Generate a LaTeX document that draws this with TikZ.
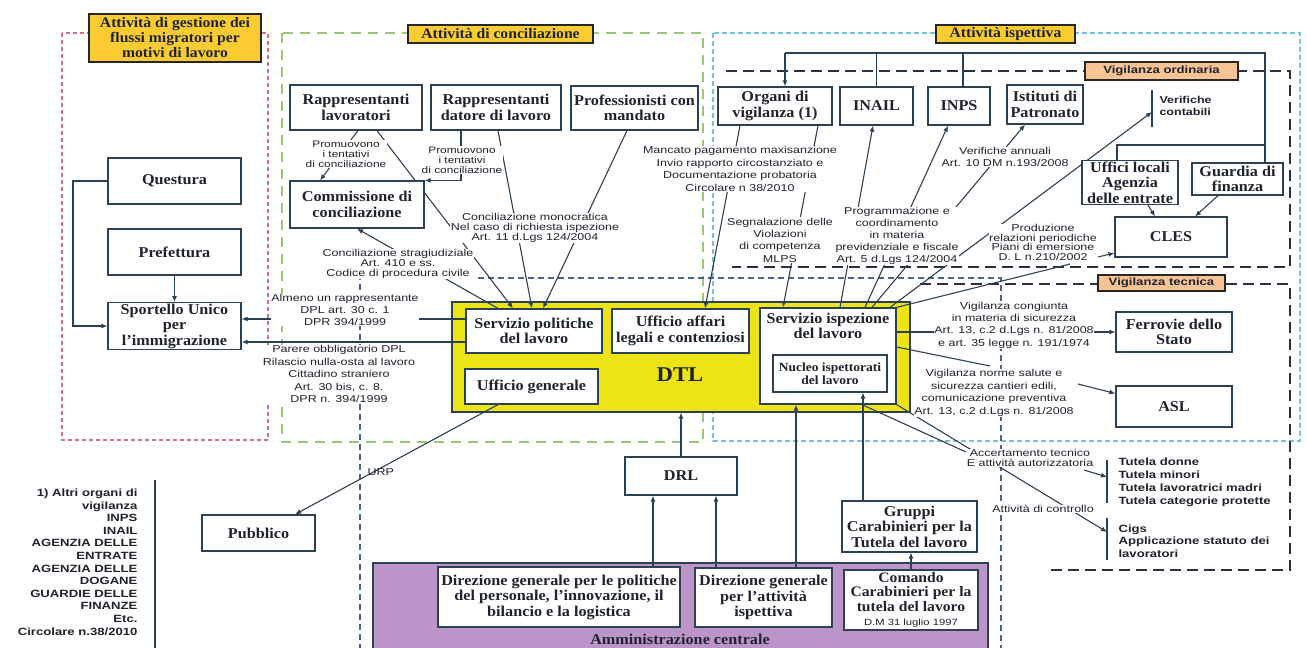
\documentclass[tikz,border=0pt]{standalone}
\usepackage{fontspec}
\setmainfont{Liberation Serif}[FakeStretch=1.08]
\setsansfont{Liberation Sans}[FakeStretch=1.25]
\usetikzlibrary{arrows.meta}
\definecolor{boxc}{RGB}{45,65,85}
\definecolor{txtc}{RGB}{30,35,45}
\definecolor{gold}{RGB}{250,204,50}
\definecolor{salm}{RGB}{248,196,150}
\definecolor{dtly}{RGB}{236,228,20}
\definecolor{lil}{RGB}{188,148,202}
\definecolor{pinkf}{RGB}{210,110,140}
\definecolor{greenf}{RGB}{150,200,120}
\definecolor{bluef}{RGB}{120,190,225}
\definecolor{dashc}{RGB}{40,50,65}
\definecolor{dtlf}{RGB}{70,100,140}
\pgfdeclarelayer{back}\pgfdeclarelayer{mid}\pgfsetlayers{back,mid,main}
\tikzset{
 box/.style={draw=boxc,line width=1.2pt,fill=white,align=center,inner sep=1pt,text=txtc,font=\bfseries\fontsize{15}{15.5}\selectfont},
 ttl/.style={draw=black!85,line width=1.8pt,fill=gold,align=center,inner sep=1pt,text=txtc,font=\bfseries\fontsize{14.5}{15}\selectfont},
 vig/.style={draw=black!85,line width=1.6pt,fill=salm,inner sep=1pt,text=txtc,font=\sffamily\bfseries\fontsize{10.5}{10.5}\selectfont},
 lbl/.style={fill=white,inner sep=0.5pt,align=center,text=txtc,font=\sffamily\fontsize{10}{#1}\selectfont},
 lbl/.default=12,
 conn/.style={draw=boxc,line width=1.1pt},
 arr/.style={conn,-{Latex[length=6pt,width=5pt]}},
 bar/.style={draw=boxc,line width=1.5pt},
 fr/.style={line width=1.2pt},
}
\newcommand\mybox[6][]{\node[box,minimum width=#4pt,minimum height=#5pt,#1] (#2) at (#3) {#6};}
\begin{document}
\begin{tikzpicture}[x=1pt,y=-1pt]
\useasboundingbox (0,0) rectangle (1307,648);
% ---------- nodes ----------
\node[ttl,minimum width=172pt,minimum height=48pt] (tg) at (175,38) {Attività di gestione dei\\flussi migratori per\\motivi di lavoro};
\node[ttl,minimum width=185pt,minimum height=18pt] (tc) at (500.5,34) {Attività di conciliazione};
\node[ttl,minimum width=139pt,minimum height=18pt] (ti) at (1005.5,34) {Attività ispettiva};
\node[vig,minimum width=153pt,minimum height=18pt] (vo) at (1161.5,71) {Vigilanza ordinaria};
\node[vig,minimum width=127pt,minimum height=16pt] (vt) at (1161.5,283) {Vigilanza tecnica};

\mybox{qs}{174.5,181}{133}{46}{Questura}
\mybox{pf}{174.5,252}{133}{46}{Prefettura}
\mybox{sp}{174.5,326}{133}{46}{Sportello Unico\\per\\l'immigrazione}
\mybox{rl}{356,107.5}{132}{45}{Rappresentanti\\lavoratori}
\mybox{rd}{496,107.5}{130}{45}{Rappresentanti\\datore di lavoro}
\mybox{pr}{634.5,108}{127}{44}{Professionisti con\\mandato}
\mybox{cm}{357,204.5}{134}{47}{Commissione di\\conciliazione}
\mybox{og}{775,106}{114}{38}{Organi di\\vigilanza (1)}
\mybox{ia}{876.5,106}{73}{38}{INAIL}
\mybox{ip}{959,106}{62}{38}{INPS}
\mybox{pt}{1045,104.5}{76}{39}{Istituti di\\Patronato}
\mybox{ul}{1130,182.5}{96}{39}{Uffici locali\\Agenzia\\delle entrate}
\mybox{gf}{1237.5,179}{91}{32}{Guardia di\\finanza}
\mybox{cl}{1171,237}{112}{40}{CLES}
\mybox{fe}{1174,332}{116}{40}{Ferrovie dello\\Stato}
\mybox{asl}{1174,406.5}{116}{41}{ASL}

\begin{pgfonlayer}{back}
 \fill[white] (0,0) rectangle (1307,648);
 \draw[fr,pinkf,dash pattern=on 4pt off 3pt] (62,33) rectangle (268,440);
 \draw[fr,greenf,line width=1.4pt,dash pattern=on 10pt off 7pt] (282,33) rectangle (703,442);
 \draw[fr,bluef,dash pattern=on 5pt off 3pt] (713,33) rectangle (1300,441);
 \draw[dashc,line width=1.7pt,dash pattern=on 11pt off 6pt] (726,71) -- (1290,71) -- (1290,267) -- (732,267);
 \draw[dashc,line width=1.7pt,dash pattern=on 11pt off 6pt] (920,284) -- (1290,284) -- (1290,570) -- (1047,570);
 \draw[fr,dtlf,dash pattern=on 6pt off 4pt] (360,660) -- (360,278) -- (1001,278) -- (1001,660);
 \node[draw=boxc,line width=1.2pt,fill=dtly,minimum width=458pt,minimum height=110pt] (dtl) at (681,357) {};
 \node[draw=boxc,line width=1.2pt,fill=lil,minimum width=615pt,minimum height=110pt] (ac) at (680.5,618) {};
\end{pgfonlayer}

\node[text=txtc,font=\bfseries\fontsize{21}{21}\selectfont] (dtlt) at (680,375) {DTL};
\node[text=txtc,font=\bfseries\fontsize{15}{15}\selectfont] (act) at (680,639) {Amministrazione centrale};

\mybox{sv}{534,331}{136}{44}{Servizio politiche\\del lavoro}
\mybox{ua}{680.5,331}{137}{44}{Ufficio affari\\legali e contenziosi}
\mybox{ug}{531.5,386.5}{133}{35}{Ufficio generale}
\mybox{si}{828,356}{136}{96}{}
\node[text=txtc,align=center,font=\bfseries\fontsize{15}{15.5}\selectfont] (sit) at (828,326) {Servizio ispezione\\del lavoro};
\mybox[font=\bfseries\fontsize{12.5}{13.5}\selectfont]{nu}{830,373.5}{114}{37}{Nucleo ispettorati\\del lavoro}
\mybox{drl}{681,476}{112}{38}{DRL}
\mybox{pb}{258.5,533}{113}{36}{Pubblico}
\mybox{gr}{909.5,526.5}{135}{51}{Gruppi\\Carabinieri per la\\Tutela del lavoro}
\mybox{dp}{559,597}{242}{60}{Direzione generale per le politiche\\del personale, l'innovazione, il\\bilancio e la logistica}
\mybox{di}{763.5,597.5}{137}{59}{Direzione generale\\per l'attività\\ispettiva}
\mybox[font=\bfseries\fontsize{14.5}{14.5}\selectfont]{cd}{911,600}{134}{60}{Comando\\Carabinieri per la\\tutela del lavoro\\{\sffamily\mdseries\fontsize{9}{10}\selectfont D.M 31 luglio 1997}}

% ---------- labels ----------
\node[lbl=10,font=\sffamily\fontsize{9.5}{10}\selectfont] (lp1) at (346,154) {Promuovono\\i tentativi\\di conciliazione};
\node[lbl=10,font=\sffamily\fontsize{9.5}{10}\selectfont] (lp2) at (462,160) {Promuovono\\i tentativi\\di conciliazione};
\node[lbl=10] (lmono) at (535,228) {Conciliazione monocratica\\Nel caso di richiesta ispezione\\Art. 11 d.Lgs 124/2004};
\node[lbl=10] (lstra) at (398,264) {Conciliazione stragiudiziale\\Art. 410 e ss.\\Codice di procedura civile};
\node[lbl=12] (lalm) at (345,310) {Almeno un rappresentante\\DPL art. 30 c. 1\\DPR 394/1999};
\node[lbl=12.5] (lpar) at (339,374) {Parere obbligatorio DPL\\Rilascio nulla-osta al lavoro\\Cittadino straniero\\Art. 30 bis, c. 8.\\DPR n. 394/1999};
\node[lbl=12.5] (lman) at (740,169) {Mancato pagamento maxisanzione\\Invio rapporto circostanziato e\\Documentazione probatoria\\Circolare n 38/2010};
\node[lbl=12.3] (lseg) at (780,240) {Segnalazione delle\\Violazioni\\di competenza\\MLPS};
\node[lbl=12] (lprog) at (897,236) {Programmazione e\\coordinamento\\in materia\\previdenziale e fiscale\\Art. 5 d.Lgs 124/2004};
\node[lbl=12.5] (lver) at (1005,157) {Verifiche annuali\\Art. 10 DM n.193/2008};
\node[lbl=9.7] (lprod) at (1043,242.5) {Produzione\\relazioni periodiche\\Piani di emersione\\D. L n.210/2002};
\node[lbl=12.3] (lcong) at (1014,325) {Vigilanza congiunta\\in materia di sicurezza\\Art. 13, c.2 d.Lgs n. 81/2008\\e art. 35 legge n. 191/1974};
\node[lbl=12.5] (lnorm) at (994,393) {Vigilanza norme salute e\\sicurezza cantieri edili,\\comunicazione preventiva\\Art. 13, c.2 d.Lgs n. 81/2008};
\node[lbl=10] (lacc) at (1030,458) {Accertamento tecnico\\E attività autorizzatoria};
\node[lbl=10] (lctr) at (1043,509) {Attività di controllo};
\node[anchor=west,text=txtc,font=\sffamily\fontsize{10}{10}\selectfont] (lurp) at (364,472) {URP};
\node[anchor=west,align=left,text=txtc,font=\sffamily\bfseries\fontsize{10}{12}\selectfont] (lvc) at (1156,106) {Verifiche\\contabili};
\node[anchor=west,align=left,text=txtc,font=\sffamily\bfseries\fontsize{10.5}{13}\selectfont] (ltut) at (1115,482.5) {Tutela donne\\Tutela minori\\Tutela lavoratrici madri\\Tutela categorie protette};
\node[anchor=west,align=left,text=txtc,font=\sffamily\bfseries\fontsize{10.5}{12.5}\selectfont] (lcig) at (1115,541) {Cigs\\Applicazione statuto dei\\lavoratori};
\node[anchor=east,align=right,text=txtc,font=\sffamily\bfseries\fontsize{10.5}{12.6}\selectfont] (lfn) at (141,562) {1) Altri organi di\\vigilanza\\INPS\\INAIL\\AGENZIA DELLE\\ENTRATE\\AGENZIA DELLE\\DOGANE\\GUARDIE DELLE\\FINANZE\\Etc.\\Circolare n.38/2010};

% bars
\coordinate (vcT) at (1152,90); \coordinate (vcB) at (1152,127); \coordinate (vcb) at (1152,112);
\coordinate (tuT) at (1107,460); \coordinate (tuB) at (1107,503); \coordinate (tub) at (1107,477);
\coordinate (ciT) at (1107,518); \coordinate (ciB) at (1107,560); \coordinate (cib) at (1107,532);
\coordinate (fnT) at (155,480); \coordinate (fnB) at (155,650);
\draw[bar] (vcT) -- (vcB);
\draw[bar] (tuT) -- (tuB);
\draw[bar] (ciT) -- (ciB);
\draw[bar] (fnT) -- (fnB);

% ---------- connectors ----------
\begin{pgfonlayer}{mid}
\coordinate (qL) at (73,181);
\draw[arr] (qs.west) -- (qL) |- (sp.west);
\draw[arr] (pf.south) -- (sp.north);
\draw[arr] ([yshift=12pt]sv.west) -- ([yshift=7pt]sp.east);
\draw[arr] ([yshift=-11pt]sv.west) -- ([yshift=-16pt]sp.east);
\draw[arr] ([xshift=2pt]rl.south) -- ([xshift=-37pt]cm.north);
\draw[arr] ([xshift=-35pt]rd.south) |- (cm.north east);
\draw[arr] ([xshift=21pt]rl.south) -- ([xshift=-21pt]sv.north);
\draw[arr] ([xshift=2pt]rd.south) -- ([xshift=-2pt]sv.north);
\draw[arr] ([xshift=-7.5pt]pr.south) -- ([xshift=9pt]sv.north);
\draw[arr] ([xshift=-36pt]sv.north) -- (cm.south);
\draw[arr] ([xshift=-35pt]og.south) -- ([xshift=24.5pt]ua.north);
\draw[arr] ([xshift=43pt]og.south) -- ([xshift=-45pt]si.north);
\draw[arr] ([xshift=12pt]si.north) -- ([xshift=-3.5pt]ia.south);
\draw[arr] ([xshift=37pt]si.north) -- ([xshift=-11pt]ip.south);
\draw[arr] ([xshift=44pt]si.north) -- ([xshift=-20pt]pt.south);
\draw[arr] ([xshift=62pt]si.north) -- (vcb);
% bus
\coordinate (busL) at (785,53); \coordinate (busR) at (1265,53); \coordinate (busJ) at (1265,145);
\draw[conn] (busL) -- (busR) -- ([xshift=27.5pt]gf.north);
\draw[arr] (busL) -- ([xshift=10pt]og.north);
\draw[conn] (ia.north |- busL) -- (ia.north);
\draw[conn] ([xshift=4pt]ip.north |- busL) -- ([xshift=4pt]ip.north);
\draw[conn] (busJ) -| ([xshift=-13pt]ul.north);
\draw[arr] ([xshift=18pt]ul.south) -- ([xshift=-16pt]cl.north);
\draw[arr] ([xshift=-19.5pt]gf.south) -- ([xshift=24pt]cl.north);
% CLES
\coordinate (prodS) at (1070,264); \coordinate (prodE) at (1098,257);
\draw[conn] (si.north east) -- (prodS);
\draw[arr] (prodE) -- ([yshift=-16pt]cl.west);
% Ferrovie
\draw[arr] ([yshift=24pt]si.east) -- ([yshift=0pt]fe.west);
% ASL
\coordinate (normN) at (990,366); \coordinate (normE) at (1078,384);
\draw[conn] ([yshift=9pt]si.east) -- (normN);
\draw[arr] (normE) -- ([yshift=13pt]asl.west);
% accertamento / controllo
\coordinate (accW) at (966,452); \coordinate (accE) at (1084,470);
\draw[conn] ([xshift=34pt]si.south) -- (accW);
\draw[arr] (accE) -- (tub);
\draw[arr] (si.south east) -- (cib);
% bottom
\draw[arr] ([xshift=-33.5pt]ug.south) -- ([xshift=36.5pt]pb.north);
\draw[arr] (drl.north) -- (dtl.south);
\draw[arr] ([xshift=-28pt]drl.south |- dp.north) -- ([xshift=-28pt]drl.south);
\draw[arr] ([xshift=35pt]drl.south |- di.north) -- ([xshift=35pt]drl.south);
\draw[arr] ([xshift=32.5pt]di.north) -- ([xshift=32.5pt]di.north |- si.south);
\draw[arr] (cd.north) -- (cd.north |- gr.south);
\end{pgfonlayer}
\draw[arr] ([xshift=-46.5pt]gr.north) -- ([xshift=-46.5pt]gr.north |- nu.south);
\end{tikzpicture}
\end{document}
